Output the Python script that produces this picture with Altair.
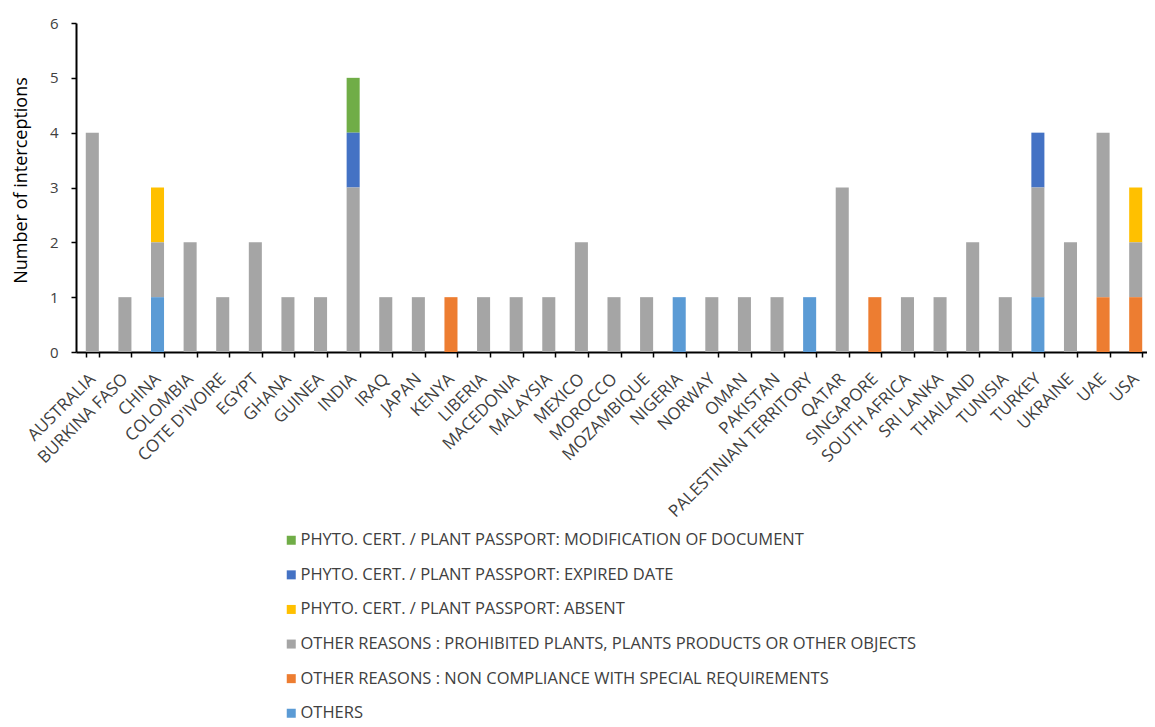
import altair as alt
import pandas as pd

countries = ["AUSTRALIA", "BURKINA FASO", "CHINA", "COLOMBIA", "COTE D'IVOIRE", "EGYPT",
             "GHANA", "GUINEA", "INDIA", "IRAQ", "JAPAN", "KENYA", "LIBERIA", "MACEDONIA",
             "MALAYSIA", "MEXICO", "MOROCCO", "MOZAMBIQUE", "NIGERIA", "NORWAY", "OMAN",
             "PAKISTAN", "PALESTINIAN TERRITORY", "QATAR", "SINGAPORE", "SOUTH AFRICA",
             "SRI LANKA", "THAILAND", "TUNISIA", "TURKEY", "UKRAINE", "UAE", "USA"]

series_names = [
    "PHYTO. CERT. / PLANT PASSPORT: MODIFICATION OF DOCUMENT",
    "PHYTO. CERT. / PLANT PASSPORT: EXPIRED DATE",
    "PHYTO. CERT. / PLANT PASSPORT: ABSENT",
    "OTHER REASONS : PROHIBITED PLANTS, PLANTS PRODUCTS OR OTHER OBJECTS",
    "OTHER REASONS : NON COMPLIANCE WITH SPECIAL REQUIREMENTS",
    "OTHERS",
]
series_colors = ["#70AD47", "#4472C4", "#FFC000", "#A5A5A5", "#ED7D31", "#5B9BD5"]

modification = [0, 0, 0, 0, 0, 0, 0, 0, 1, 0, 0, 0, 0, 0, 0, 0, 0, 0, 0, 0, 0, 0, 0, 0, 0, 0, 0, 0, 0, 0, 0, 0, 0]
expired      = [0, 0, 0, 0, 0, 0, 0, 0, 1, 0, 0, 0, 0, 0, 0, 0, 0, 0, 0, 0, 0, 0, 0, 0, 0, 0, 0, 0, 0, 1, 0, 0, 0]
absent       = [0, 0, 1, 0, 0, 0, 0, 0, 0, 0, 0, 0, 0, 0, 0, 0, 0, 0, 0, 0, 0, 0, 0, 0, 0, 0, 0, 0, 0, 0, 0, 0, 1]
prohibited   = [4, 1, 1, 2, 1, 2, 1, 1, 3, 1, 1, 0, 1, 1, 1, 2, 1, 1, 0, 1, 1, 1, 0, 3, 0, 1, 1, 2, 1, 2, 2, 3, 1]
noncompliance = [0, 0, 0, 0, 0, 0, 0, 0, 0, 0, 0, 1, 0, 0, 0, 0, 0, 0, 0, 0, 0, 0, 0, 0, 1, 0, 0, 0, 0, 0, 0, 1, 1]
others       = [0, 0, 1, 0, 0, 0, 0, 0, 0, 0, 0, 0, 0, 0, 0, 0, 0, 0, 1, 0, 0, 0, 1, 0, 0, 0, 0, 0, 0, 1, 0, 0, 0]

series_values = [modification, expired, absent, prohibited, noncompliance, others]
# stacking rank: bottom first
stack_rank = [5, 4, 3, 2, 1, 0]

rows = []
for name, vals, rk in zip(series_names, series_values, stack_rank):
    for c, v in zip(countries, vals):
        if v > 0:
            rows.append({"country": c, "reason": name, "value": v, "rank": rk})
df = pd.DataFrame(rows)

FONT = "Open Sans"

chart = alt.Chart(df).mark_bar().encode(
    x=alt.X("country:N", sort=countries, title=None,
            scale=alt.Scale(paddingInner=0.6, paddingOuter=0.3, range=[0, 1076]),
            axis=alt.Axis(labelAngle=-45, labelFontSize=17, labelColor="#404040",
                          labelFont=FONT, labelAlign="right", labelBaseline="middle",
                          labelLimit=400,
                          domainColor="#000000", domainWidth=2,
                          tickColor="#000000", tickSize=5, tickWidth=1.5,
                          tickBand="extent", labelPadding=19)),
    y=alt.Y("value:Q", title="Number of interceptions",
            scale=alt.Scale(domain=[0, 6]),
            axis=alt.Axis(values=[0, 1, 2, 3, 4, 5, 6], format="d", grid=False,
                          labelFontSize=15, labelColor="#404040", labelFont=FONT,
                          labelPadding=13,
                          domainColor="#000000", domainWidth=2,
                          tickColor="#000000", tickSize=5, tickWidth=1.5,
                          titleFont=FONT, titleFontSize=18, titleFontWeight="normal",
                          titleColor="#000000", titleX=-55, titleY=157,
                          titleAngle=-90, titleBaseline="middle", titleAlign="center")),
    color=alt.Color("reason:N",
                    scale=alt.Scale(domain=series_names, range=series_colors),
                    legend=alt.Legend(title=None, orient="none", legendX=207, legendY=509,
                                      direction="vertical", symbolType="square",
                                      symbolSize=81, symbolStrokeWidth=0,
                                      labelFont=FONT, labelFontSize=16.5,
                                      labelColor="#404040", labelLimit=900,
                                      labelOffset=1, rowPadding=17.6)),
    order=alt.Order("rank:Q", sort="ascending"),
).properties(
    width=1071, height=329,
    autosize=alt.AutoSizeParams(type="none"),
    padding={"left": 68, "top": 15, "right": 0, "bottom": 375},
).configure_view(stroke=None)

chart.save("out.html", embed_options={"renderer": "svg", "actions": False})
